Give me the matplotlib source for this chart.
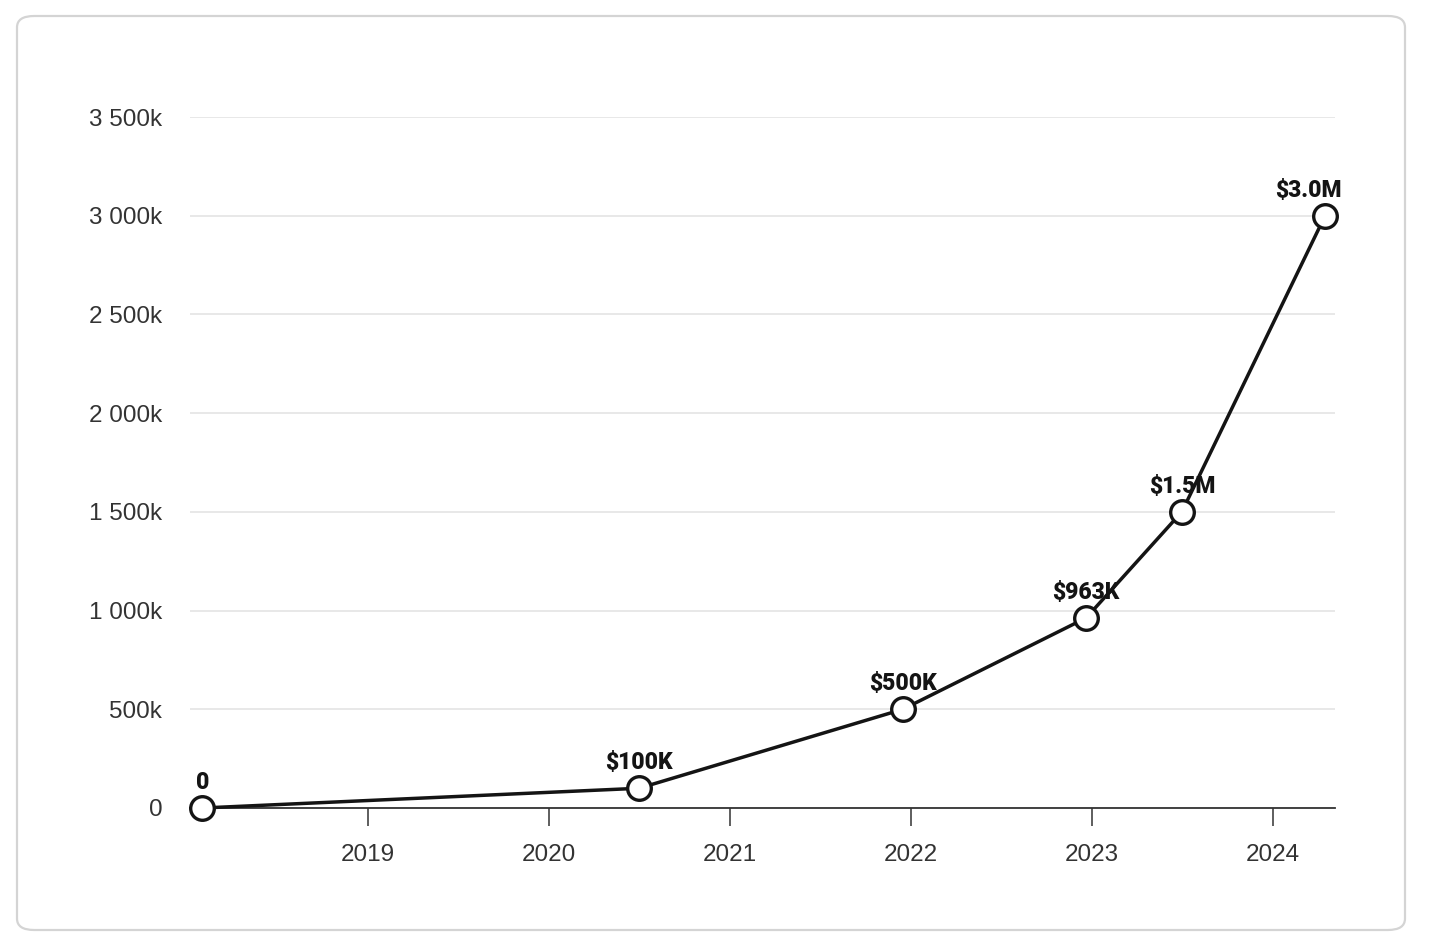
import matplotlib
matplotlib.use('Agg')
import matplotlib.pyplot as plt
import matplotlib.dates as mdates
from matplotlib.patches import FancyBboxPatch
from matplotlib.ticker import FuncFormatter
import datetime as dt

# data
dates = [dt.date(2018, 2, 1), dt.date(2020, 7, 1), dt.date(2021, 12, 15),
         dt.date(2022, 12, 20), dt.date(2023, 7, 1), dt.date(2024, 4, 15)]
values = [0, 100000, 500000, 963000, 1500000, 3000000]
labels = ['0', '$100K', '$500K', '$963K', '$1.5M', '$3.0M']
label_dx = [0, 0, 0, 0, 0, -12]

yticks = [0, 500000, 1000000, 1500000, 2000000, 2500000, 3000000, 3500000]

def fmt_k(v, pos):
    if v == 0:
        return '0'
    k = int(round(v / 1000))
    return '{:,}k'.format(k).replace(',', ' ')

fig = plt.figure(figsize=(14.3, 9.5), dpi=100)
fig.patch.set_facecolor('white')

card = FancyBboxPatch((17 / 1430, 20 / 950), 1388 / 1430, 914 / 950,
                      boxstyle='round,pad=0,rounding_size=0.012',
                      transform=fig.transFigure, facecolor='white',
                      edgecolor='#d4d4d4', linewidth=1.6, zorder=-5)
fig.patches.append(card)

ax = fig.add_axes([190 / 1430, 142 / 950, 1145 / 1430, 691 / 950])
ax.set_zorder(2)
ax.set_facecolor('none')

ax.plot(dates, values, color='#141414', linewidth=2.5, zorder=3,
        marker='o', markersize=17, markerfacecolor='white',
        markeredgecolor='#141414', markeredgewidth=2.4, clip_on=False)

for d, v, lab, dx in zip(dates, values, labels, label_dx):
    ax.annotate(lab, (d, v), xytext=(dx, 10), textcoords='offset points',
                ha='center', va='bottom', fontsize=16.5, fontweight='black',
                family='Roboto', color='#141414', zorder=4)

ax.set_xlim(dt.date(2018, 1, 7), dt.date(2024, 5, 5))
ax.set_ylim(0, 3500000)
ax.set_yticks(yticks)
ax.yaxis.set_major_formatter(FuncFormatter(fmt_k))
ax.xaxis.set_major_locator(mdates.YearLocator())
ax.xaxis.set_major_formatter(mdates.DateFormatter('%Y'))

ax.grid(axis='y', color='#e2e2e2', linewidth=1.1)
ax.set_axisbelow(True)
for s in ['top', 'right', 'left']:
    ax.spines[s].set_visible(False)
ax.spines['bottom'].set_color('#333333')
ax.spines['bottom'].set_linewidth(1.3)
ax.spines['bottom'].set_zorder(2)

ax.tick_params(axis='y', length=0, pad=20, labelsize=17.5, labelcolor='#333333')
ax.tick_params(axis='x', length=13, width=1.1, color='#333333', pad=13,
               labelsize=17.5, labelcolor='#333333')
for t in ax.get_xticklabels() + ax.get_yticklabels():
    t.set_family('Liberation Sans')

fig.savefig('out.png', dpi=100)
